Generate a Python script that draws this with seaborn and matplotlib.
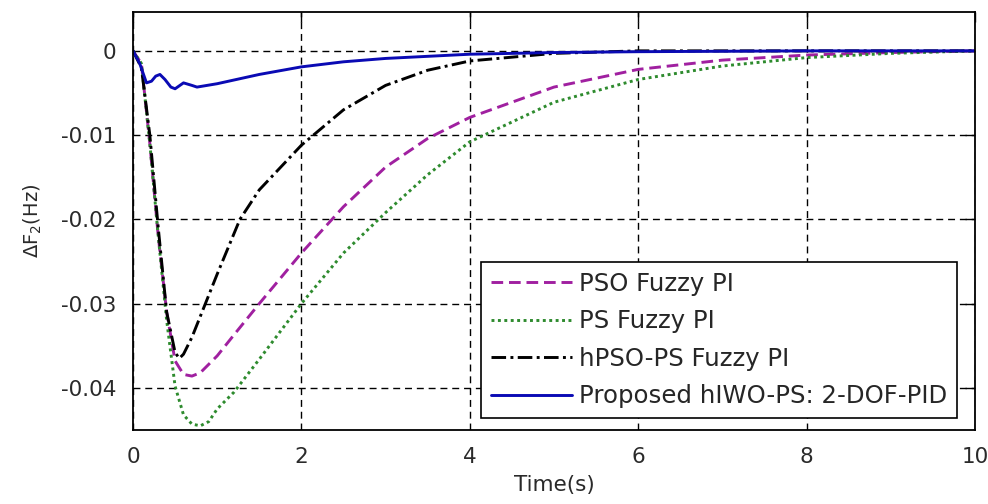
# Frequency deviation of area 2 for the four controllers
import numpy as np
import pandas as pd
import seaborn as sns
import matplotlib.pyplot as plt
import matplotlib

sns.set_style('white')
matplotlib.rcParams['font.family'] = ['DejaVu Sans']
matplotlib.rcParams['mathtext.default'] = 'regular'

# Curves
t_pso = [0, 0.1, 0.2, 0.3, 0.4, 0.5, 0.6, 0.7, 0.8, 1.0, 1.2, 1.5, 2.0, 2.5, 3.0,
         3.5, 4.0, 5.0, 6.0, 7.0, 8.0, 9.0, 10.0]
pso = [0, -0.0015, -0.011, -0.022, -0.031, -0.0368, -0.0384, -0.0386, -0.0382,
       -0.0362, -0.0337, -0.0300, -0.0240, -0.0185, -0.0138, -0.0104, -0.0079,
       -0.0043, -0.0022, -0.0011, -0.0005, -0.0002, 0.0]

t_ps = [0, 0.1, 0.2, 0.3, 0.4, 0.5, 0.6, 0.7, 0.8, 0.9, 1.0, 1.2, 1.5, 2.0, 2.5,
        3.0, 3.5, 4.0, 5.0, 6.0, 7.0, 8.0, 9.0, 10.0]
ps = [0, -0.0015, -0.011, -0.022, -0.032, -0.0398, -0.0432, -0.0443, -0.0445,
      -0.0440, -0.0425, -0.0405, -0.0366, -0.0300, -0.0240, -0.0192, -0.0147,
      -0.0108, -0.0061, -0.0034, -0.0018, -0.0008, -0.0003, 0.0]

t_hpso = [0, 0.1, 0.2, 0.3, 0.4, 0.5, 0.55, 0.6, 0.7, 0.8, 1.0, 1.27, 1.5, 2.0,
          2.5, 3.0, 3.5, 4.0, 5.0, 6.0, 8.0, 10.0]
hpso = [0, -0.002, -0.010, -0.021, -0.031, -0.0358, -0.0365, -0.0360, -0.0340,
        -0.0315, -0.0265, -0.0200, -0.0165, -0.0112, -0.0070, -0.0041, -0.0023,
        -0.0012, -0.0003, 0.0, 0.0, 0.0]

t_hiwo = [0, 0.08, 0.16, 0.22, 0.27, 0.32, 0.38, 0.45, 0.5, 0.6, 0.7, 0.76, 1.0,
          1.5, 2.0, 2.5, 3.0, 4.0, 5.0, 6.0, 8.0, 10.0]
hiwo = [0, -0.0015, -0.0038, -0.0036, -0.0030, -0.0028, -0.0034, -0.0043,
        -0.0045, -0.0038, -0.0041, -0.0043, -0.0039, -0.0028, -0.0019, -0.0013,
        -0.0009, -0.0004, -0.0002, -0.0001, 0.0, 0.0]

labels = ['PSO Fuzzy PI', 'PS Fuzzy PI', 'hPSO-PS Fuzzy PI',
          'Proposed hIWO-PS: 2-DOF-PID']

series = [
    (t_pso, pso, '#a020a0', (0, (4, 2))),
    (t_ps, ps, '#2e8b2e', (0, (1, 1.2))),
    (t_hpso, hpso, 'black', (0, (5, 1.5, 1, 1.5))),
    (t_hiwo, hiwo, '#0a0ab4', '-'),
]

fig = plt.figure(figsize=(9.88, 5.04), dpi=100)
ax = fig.add_axes([0.1346, 0.1468, 0.8522, 0.8292])

for (t, v, c, ls), lab in zip(series, labels):
    df = pd.DataFrame({'t': t, 'v': v})
    sns.lineplot(data=df, x='t', y='v', ax=ax, color=c, linestyle=ls,
                 linewidth=2.1, label=lab)

ax.set_xlim(0, 10)
ax.set_ylim(-0.045, 0.0046)
ax.set_xticks([0, 2, 4, 6, 8, 10])
ax.set_yticks([0, -0.01, -0.02, -0.03, -0.04])
ax.set_yticklabels(['0', '-0.01', '-0.02', '-0.03', '-0.04'])
ax.tick_params(direction='in', length=7, width=1, labelsize=15.5, color='black',
               top=True, right=True, labelcolor='#2a2a2a')
ax.tick_params(axis='x', pad=12)
ax.tick_params(axis='y', pad=12)
ax.set_xlabel('Time(s)', fontsize=15.5, labelpad=6, color='#2a2a2a')
ax.set_ylabel('ΔF$_2$(Hz)', fontsize=14, labelpad=12, color='#2a2a2a')
ax.grid(True, color='black', linestyle=(0, (5, 3.5)), linewidth=1)
for s in ax.spines.values():
    s.set_color('black')
    s.set_linewidth(1.3)

leg = ax.legend(loc='lower right', bbox_to_anchor=(0.979, 0.029),
                borderaxespad=0, fontsize=17.6, handlelength=3.3,
                handletextpad=0.3, labelspacing=0.55, fancybox=False,
                framealpha=1, borderpad=0.4)
leg.get_frame().set_edgecolor('black')
leg.get_frame().set_linewidth(1.2)

fig.savefig('out.png', dpi=100)
